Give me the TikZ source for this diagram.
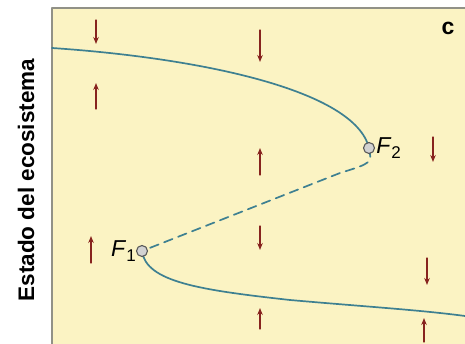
\documentclass[tikz,border=0pt]{standalone}
\usepackage{fontspec}
\setmainfont{Liberation Sans}
\usetikzlibrary{arrows.meta,positioning}

\definecolor{fondo}{RGB}{251,243,195}
\definecolor{curva}{RGB}{62,128,145}
\definecolor{flecha}{RGB}{135,35,30}
\definecolor{marco}{RGB}{145,145,135}

\begin{document}
\begin{tikzpicture}[x=1pt, y=-1pt, line cap=round, line join=round,
    flujo/.style={flecha, line width=1.1pt, -{Stealth[length=7pt,width=5.5pt]}},
    rama/.style={curva, line width=1.7pt},
    punto/.style={circle, draw=gray!70!black, fill=gray!35, line width=1.1pt, minimum size=11pt, inner sep=0pt},
    etiqueta/.style={font=\fontsize{23}{25}\selectfont, inner sep=0pt}]

\useasboundingbox (0,0) rectangle (465,344);
\fill[white] (0,0) rectangle (465,344);
\fill[fondo] (52,8) rectangle (465,344);
\draw[marco, line width=2pt] (52,344) -- (52,8) -- (465,8);

\node[rotate=90, font=\bfseries\fontsize{22.5}{25}\selectfont] (eje) at (26,180) {Estado del ecosistema};
\node[font=\bfseries\fontsize{23}{24}\selectfont] (panel) at (448,28) {c};

% flechas del campo
\foreach \x/\ya/\yb in {96/20/44, 96/109/83, 260/30/62, 260/175/148, 260/226/250,
    260/329/308, 91/263/236, 433/137/162, 427/258/285, 424/342/318} {
    \draw[flujo] (\x,\ya) -- (\x,\yb);
}

\coordinate (izq) at (52,48);
\coordinate (der) at (465,316);
\coordinate (p2) at (369,148);
\coordinate (p1) at (142,251);

\draw[rama] (izq) .. controls (200,58) and (355,90) .. (p2);
\draw[rama, dash pattern=on 9pt off 6pt] (p2) .. controls (372,163) .. (340,173) -- (p1);
\draw[rama] (p1) .. controls (146,282) and (200,290) .. (290,300)
    .. controls (370,307) and (420,310) .. (der);

\node[punto] (F2) at (p2) {};
\node[punto] (F1) at (p1) {};

\node[etiqueta, right=1pt of F2] (lab2) {\textit{F}\raisebox{-5pt}{\fontsize{17}{17}\selectfont 2}};
\node[etiqueta, left=0pt of F1] (lab1) {\textit{F}\raisebox{-5pt}{\fontsize{17}{17}\selectfont 1}};

\end{tikzpicture}
\end{document}
